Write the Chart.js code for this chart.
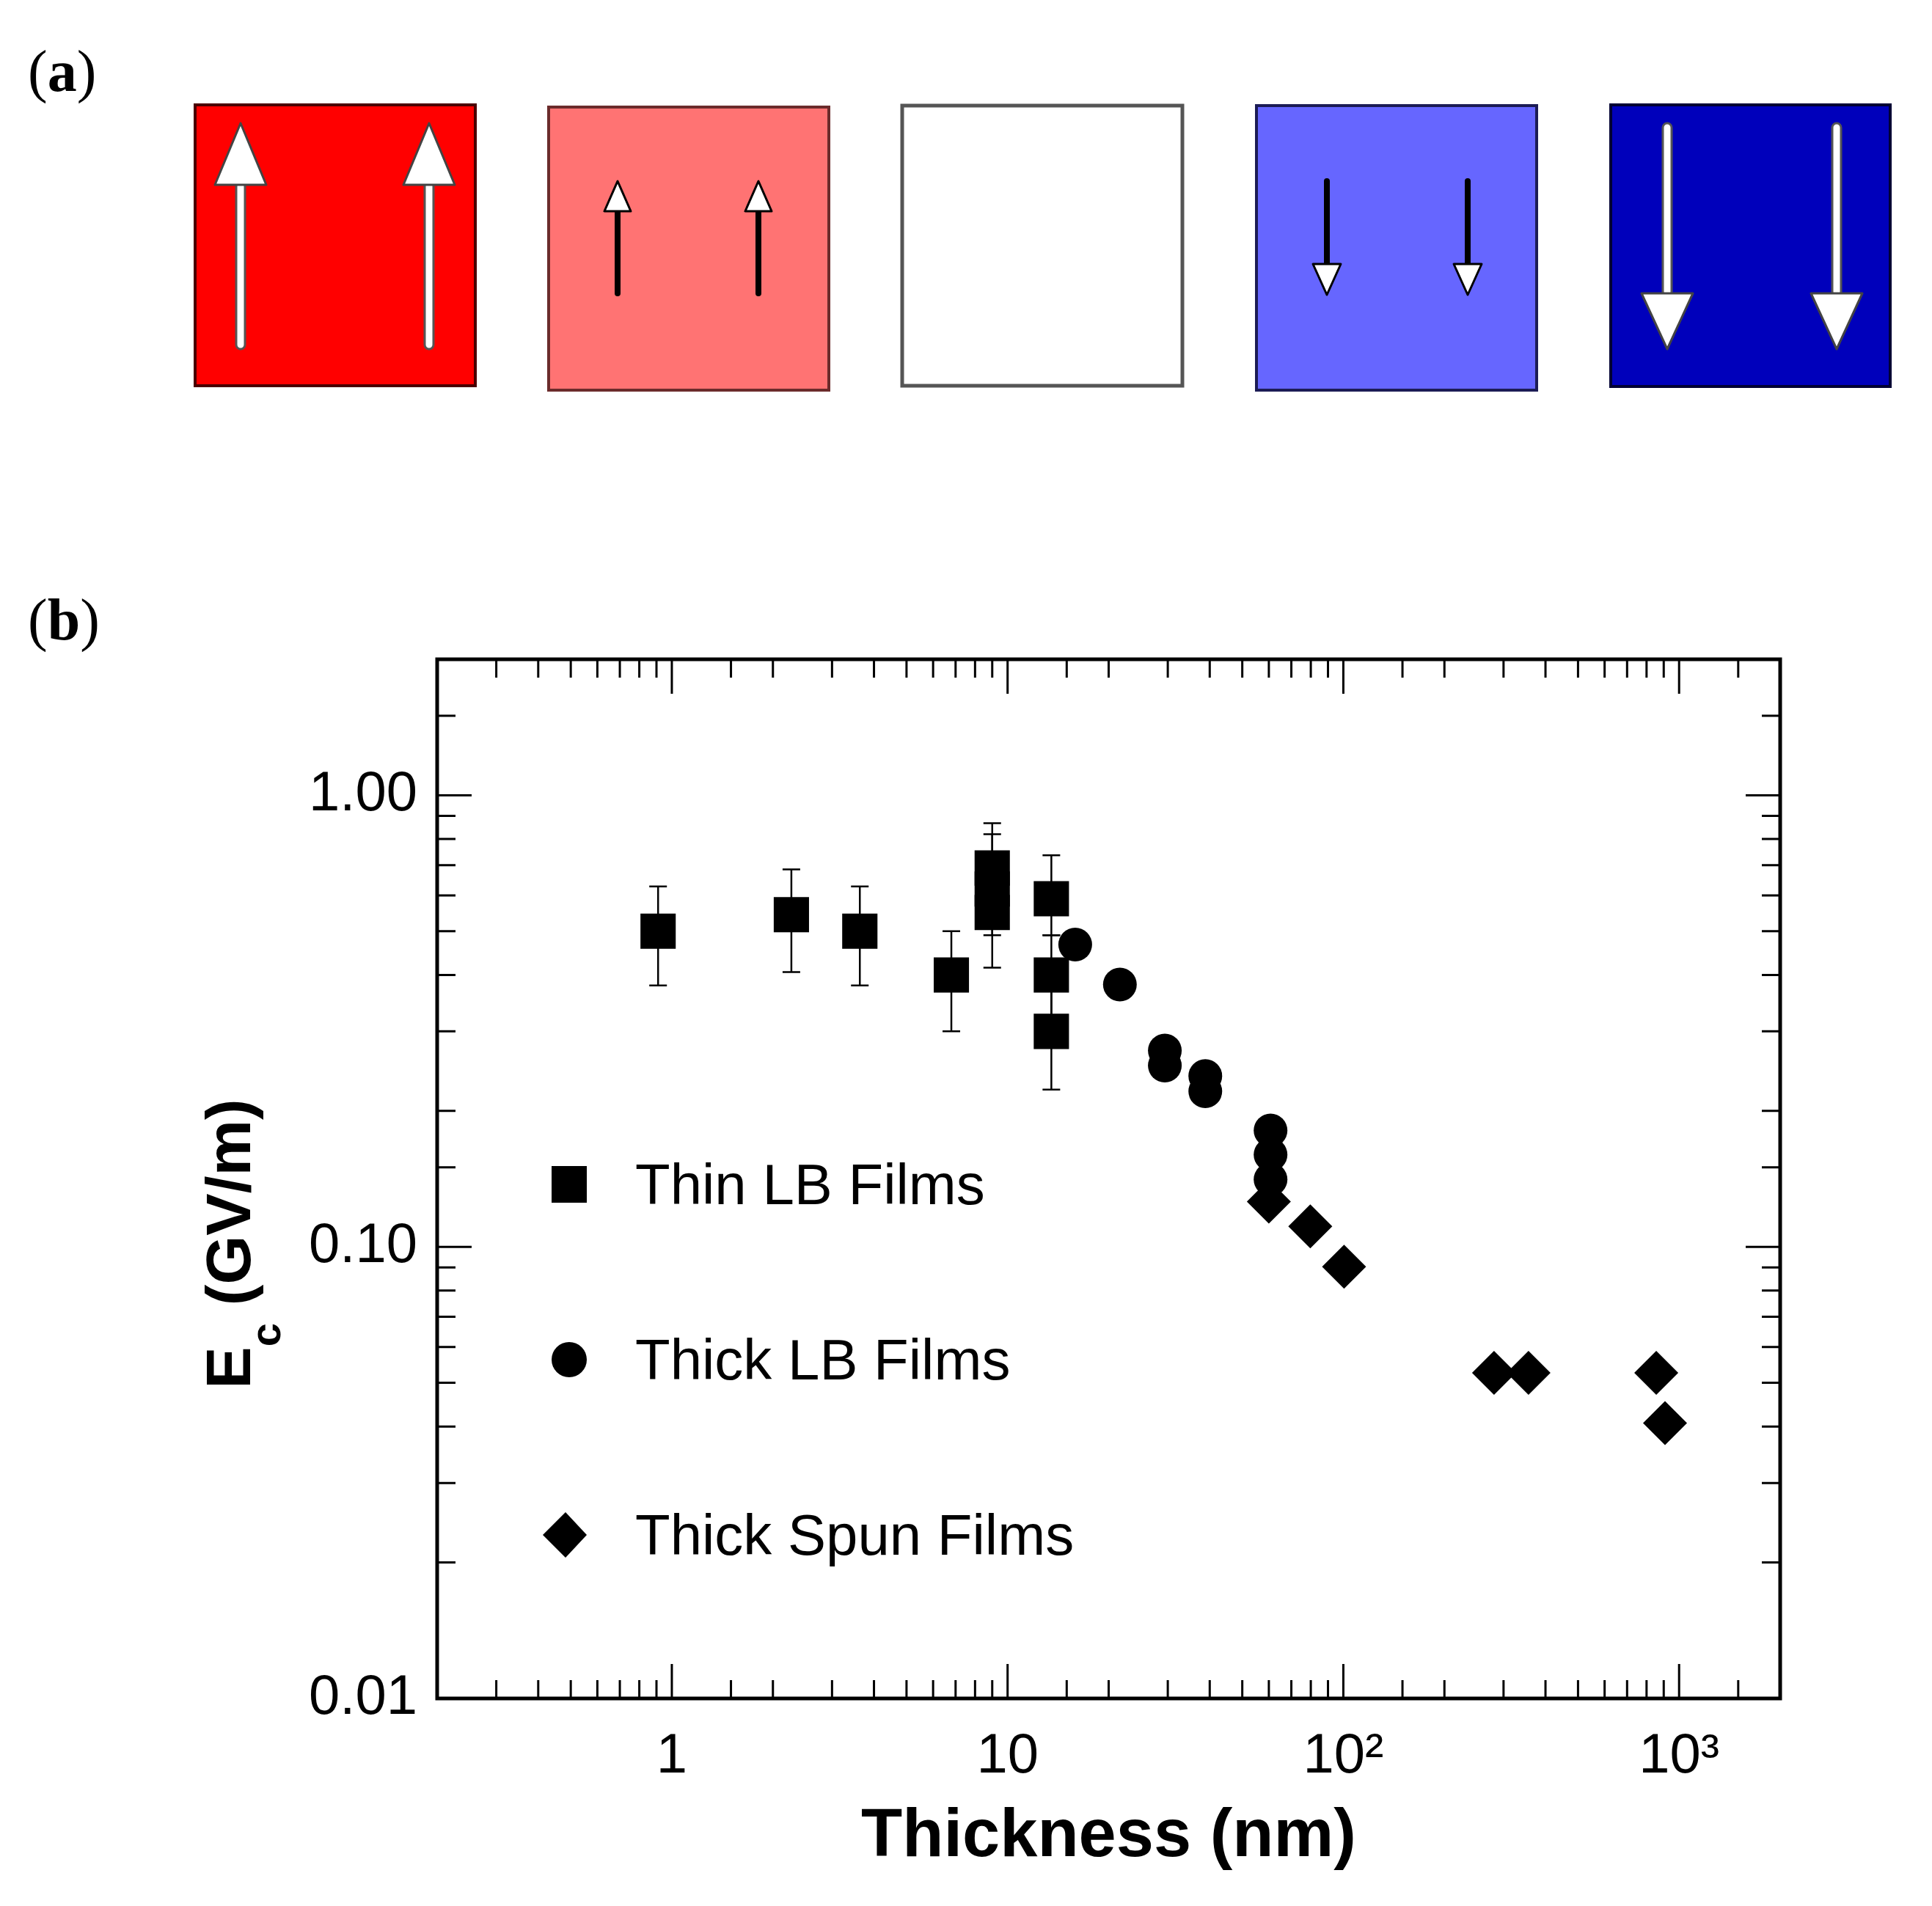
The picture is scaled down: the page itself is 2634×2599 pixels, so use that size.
<!DOCTYPE html>
<html>
<head>
<meta charset="utf-8">
<title>Coercive field vs thickness</title>
<script src="https://cdn.jsdelivr.net/npm/chart.js@4.4.1/dist/chart.umd.min.js"></script>
<style>
  html, body { margin: 0; padding: 0; background: #fff; }
  body { width: 2634px; height: 2599px; position: relative; overflow: hidden; }
  .panel-label { position: absolute; font-family: "Liberation Serif", serif; font-size: 80px; line-height: 1; color: #000; }
  #domains { position: absolute; left: 0; top: 0; }
  #chartBox { position: absolute; left: 0; top: 760px; width: 2634px; height: 1839px; }
</style>
</head>
<body>
<div class="panel-label" style="left:38px; top:57px;">(<b>a</b>)</div>
<div class="panel-label" style="left:38px; top:805px;">(<b>b</b>)</div>

<!-- panel (a): polarization states -->
<svg id="domains" width="2634" height="600">
  <rect x="266" y="143" width="382" height="383" fill="#ff0000" stroke="#4a0000" stroke-width="4"/>
  <rect x="748" y="146" width="382" height="386" fill="#ff7373" stroke="#6b2b2b" stroke-width="4"/>
  <rect x="1230" y="144" width="382" height="382" fill="#ffffff" stroke="#555555" stroke-width="5"/>
  <rect x="1713" y="144" width="382" height="388" fill="#6666ff" stroke="#1c1c55" stroke-width="4"/>
  <rect x="2196" y="143" width="381" height="384" fill="#0000bb" stroke="#000033" stroke-width="4"/>

  <!-- large up arrows -->
  <rect x="322" y="248" width="12" height="228" rx="6" fill="#fff" stroke="#555" stroke-width="3"/>
  <polygon points="293,252 363,252 328,168" fill="#fff" stroke="#444" stroke-width="3" stroke-linejoin="round"/>
  <rect x="579" y="248" width="12" height="228" rx="6" fill="#fff" stroke="#555" stroke-width="3"/>
  <polygon points="550,252 620,252 585,168" fill="#fff" stroke="#444" stroke-width="3" stroke-linejoin="round"/>

  <!-- small up arrows -->
  <line x1="842" y1="400" x2="842" y2="285" stroke="#000" stroke-width="8" stroke-linecap="round"/>
  <polygon points="824,288 860,288 842,247" fill="#fff" stroke="#000" stroke-width="3" stroke-linejoin="round"/>
  <line x1="1034" y1="400" x2="1034" y2="285" stroke="#000" stroke-width="8" stroke-linecap="round"/>
  <polygon points="1016,288 1052,288 1034,247" fill="#fff" stroke="#000" stroke-width="3" stroke-linejoin="round"/>

  <!-- small down arrows -->
  <line x1="1809" y1="247" x2="1809" y2="362" stroke="#000" stroke-width="8" stroke-linecap="round"/>
  <polygon points="1790,360 1828,360 1809,402" fill="#fff" stroke="#000" stroke-width="3" stroke-linejoin="round"/>
  <line x1="2001" y1="247" x2="2001" y2="362" stroke="#000" stroke-width="8" stroke-linecap="round"/>
  <polygon points="1982,360 2020,360 2001,402" fill="#fff" stroke="#000" stroke-width="3" stroke-linejoin="round"/>

  <!-- large down arrows -->
  <rect x="2267" y="168" width="12" height="236" rx="6" fill="#fff" stroke="#555" stroke-width="3"/>
  <polygon points="2238,400 2308,400 2273,476" fill="#fff" stroke="#444" stroke-width="3" stroke-linejoin="round"/>
  <rect x="2498" y="168" width="12" height="236" rx="6" fill="#fff" stroke="#555" stroke-width="3"/>
  <polygon points="2469,400 2539,400 2504,476" fill="#fff" stroke="#444" stroke-width="3" stroke-linejoin="round"/>
</svg>

<div id="chartBox"><canvas id="ecChart"></canvas></div>

<script>
// thin LB films (squares, with error bars)
const thinX    = [0.91, 2.27, 3.63, 6.8, 9.0, 9.0, 9.0, 13.5, 13.5, 13.5];
const thinY    = [0.50, 0.544, 0.50, 0.40, 0.69, 0.62, 0.55, 0.59, 0.40, 0.30];
const thinLow  = [0.379, 0.406, 0.379, 0.30, 0.49, null, 0.415, 0.49, 0.30, 0.223];
const thinHigh = [0.628, 0.685, 0.628, 0.50, 0.867, null, 0.82, 0.736, 0.49, 0.37];

// thick LB films (circles)
const thickLbX = [15.9, 21.6, 29.4, 29.4, 38.8, 38.8, 60.7, 60.7, 60.7];
const thickLbY = [0.467, 0.381, 0.272, 0.252, 0.239, 0.221, 0.181, 0.160, 0.141];

// thick spun films (diamonds)
const spunX = [60.0, 79.7, 100.5, 281, 356, 855, 908];
const spunY = [0.126, 0.111, 0.0904, 0.0526, 0.0526, 0.0526, 0.0407];

const seriesNames = ['Thin LB Films', 'Thick LB Films', 'Thick Spun Films'];

const xTickValues = [1, 10, 100, 1000];
const xTickLabels = ['1', '10', '10\u00B2', '10\u00B3'];
const yTickValues = [0.01, 0.1, 1];
const yTickLabels = ['0.01', '0.10', '1.00'];

const near = (a, b) => Math.abs(a - b) <= 1e-6 * Math.max(Math.abs(a), Math.abs(b));
const isDecade = v => Math.abs(Math.log10(v) - Math.round(Math.log10(v))) < 1e-6;

function pts(xs, ys) {
    return xs.map((x, i) => ({ x: x, y: ys[i] }));
}

// error bars on the thin film squares, under the markers
const errorBars = {
    id: 'errorBars',
    beforeDatasetsDraw(chart) {
        const c = chart.ctx, sx = chart.scales.x, sy = chart.scales.y;
        c.save();
        c.strokeStyle = '#000';
        c.lineWidth = 2.5;
        thinX.forEach((xv, i) => {
            if (thinLow[i] == null && thinHigh[i] == null) return;
            const px = sx.getPixelForValue(xv);
            const lo = sy.getPixelForValue(thinLow[i] != null ? thinLow[i] : thinY[i]);
            const hi = sy.getPixelForValue(thinHigh[i] != null ? thinHigh[i] : thinY[i]);
            c.beginPath();
            c.moveTo(px, lo); c.lineTo(px, hi);
            if (thinLow[i] != null) { c.moveTo(px - 12, lo); c.lineTo(px + 12, lo); }
            if (thinHigh[i] != null) { c.moveTo(px - 12, hi); c.lineTo(px + 12, hi); }
            c.stroke();
        });
        c.restore();
    }
};

// closed frame with inward ticks on all four sides
const frame = {
    id: 'frame',
    afterDraw(chart) {
        const c = chart.ctx, a = chart.chartArea, sx = chart.scales.x, sy = chart.scales.y;
        c.save();
        c.strokeStyle = '#000';
        c.lineWidth = 3;
        c.beginPath();
        sx.ticks.forEach(t => {
            const px = sx.getPixelForValue(t.value);
            if (px <= a.left + 2 || px >= a.right - 2) return;
            const len = isDecade(t.value) ? 47 : 25;
            c.moveTo(px, a.bottom); c.lineTo(px, a.bottom - len);
            c.moveTo(px, a.top); c.lineTo(px, a.top + len);
        });
        sy.ticks.forEach(t => {
            const py = sy.getPixelForValue(t.value);
            if (py <= a.top + 2 || py >= a.bottom - 2) return;
            const len = isDecade(t.value) ? 47 : 25;
            c.moveTo(a.left, py); c.lineTo(a.left + len, py);
            c.moveTo(a.right, py); c.lineTo(a.right - len, py);
        });
        c.stroke();
        c.lineWidth = 5;
        c.strokeRect(a.left, a.top, a.right - a.left, a.bottom - a.top);
        c.restore();
    }
};

// y axis title with subscript c
const yTitle = {
    id: 'yTitle',
    afterDraw(chart) {
        const c = chart.ctx;
        c.save();
        c.translate(330, 936);
        c.rotate(-Math.PI / 2);
        c.fillStyle = '#000';
        c.textBaseline = 'alphabetic';
        c.textAlign = 'left';
        const big = 'bold 86px "Liberation Sans", Arial, sans-serif';
        const small = 'bold 58px "Liberation Sans", Arial, sans-serif';
        c.font = big;
        const wE = c.measureText('E').width;
        const wRest = c.measureText(' (GV/m)').width;
        c.font = small;
        const wc = c.measureText('c').width;
        let u = -(wE + wc + wRest) / 2;
        c.font = big;
        c.fillText('E', u, 11);
        u += wE;
        c.font = small;
        c.fillText('c', u, 52);
        u += wc;
        c.font = big;
        c.fillText(' (GV/m)', u, 11);
        c.restore();
    }
};

// legend inside the plot area
const insideLegend = {
    id: 'insideLegend',
    afterDraw(chart) {
        const c = chart.ctx;
        c.save();
        c.fillStyle = '#000';
        c.font = '78px "Liberation Sans", Arial, sans-serif';
        c.textBaseline = 'middle';
        chart.data.datasets.forEach((ds, i) => {
            const cy = 855 + i * 239;
            const cx = 776;
            c.beginPath();
            if (ds.pointStyle === 'rect') {
                c.rect(cx - 24, cy - 25, 48, 50);
            } else if (ds.pointStyle === 'circle') {
                c.arc(cx, cy, 24, 0, Math.PI * 2);
            } else {
                c.moveTo(cx - 36, cy); c.lineTo(cx - 5, cy - 31);
                c.lineTo(cx + 24, cy); c.lineTo(cx - 5, cy + 31);
                c.closePath();
            }
            c.fill();
            c.fillText(ds.label, 866, cy + 5);
        });
        c.restore();
    }
};

const ctx = document.getElementById('ecChart').getContext('2d');
new Chart(ctx, {
    type: 'scatter',
    data: {
        datasets: [
            { label: seriesNames[0], data: pts(thinX, thinY), pointStyle: 'rect', pointRadius: 34 },
            { label: seriesNames[1], data: pts(thickLbX, thickLbY), pointStyle: 'circle', pointRadius: 23 },
            { label: seriesNames[2], data: pts(spunX, spunY), pointStyle: 'rectRot', pointRadius: 30 }
        ].map(d => Object.assign(d, {
            backgroundColor: '#000', borderColor: '#000', borderWidth: 0,
            pointHoverRadius: d.pointRadius, showLine: false
        }))
    },
    options: {
        responsive: true,
        maintainAspectRatio: false,
        animation: false,
        devicePixelRatio: 1,
        layout: { padding: { top: 139, right: 207, left: 0, bottom: 0 } },
        plugins: { legend: { display: false }, tooltip: { enabled: false } },
        scales: {
            x: {
                type: 'logarithmic',
                min: 0.2,
                max: 2000,
                grid: { display: false, drawTicks: false },
                border: { display: false },
                ticks: {
                    autoSkip: false, minRotation: 0, maxRotation: 0, padding: 34, color: '#000',
                    font: { family: 'Liberation Sans', size: 76 },
                    callback: v => {
                        const k = xTickValues.findIndex(t => near(t, v));
                        return k >= 0 ? xTickLabels[k] : '';
                    }
                },
                title: {
                    display: true, text: 'Thickness (nm)', color: '#000',
                    font: { family: 'Liberation Sans', size: 92, weight: 'bold' },
                    padding: { top: 0, bottom: 38 }
                },
                afterFit: s => { s.height = 283; }
            },
            y: {
                type: 'logarithmic',
                min: 0.01,
                max: 2,
                grid: { display: false, drawTicks: false },
                border: { display: false },
                ticks: {
                    autoSkip: false, padding: 27, color: '#000',
                    font: { family: 'Liberation Sans', size: 76 },
                    callback: v => {
                        const k = yTickValues.findIndex(t => near(t, v));
                        return k >= 0 ? yTickLabels[k] : '';
                    }
                },
                afterFit: s => { s.width = 596; }
            }
        }
    },
    plugins: [errorBars, frame, yTitle, insideLegend]
});
</script>
</body>
</html>
